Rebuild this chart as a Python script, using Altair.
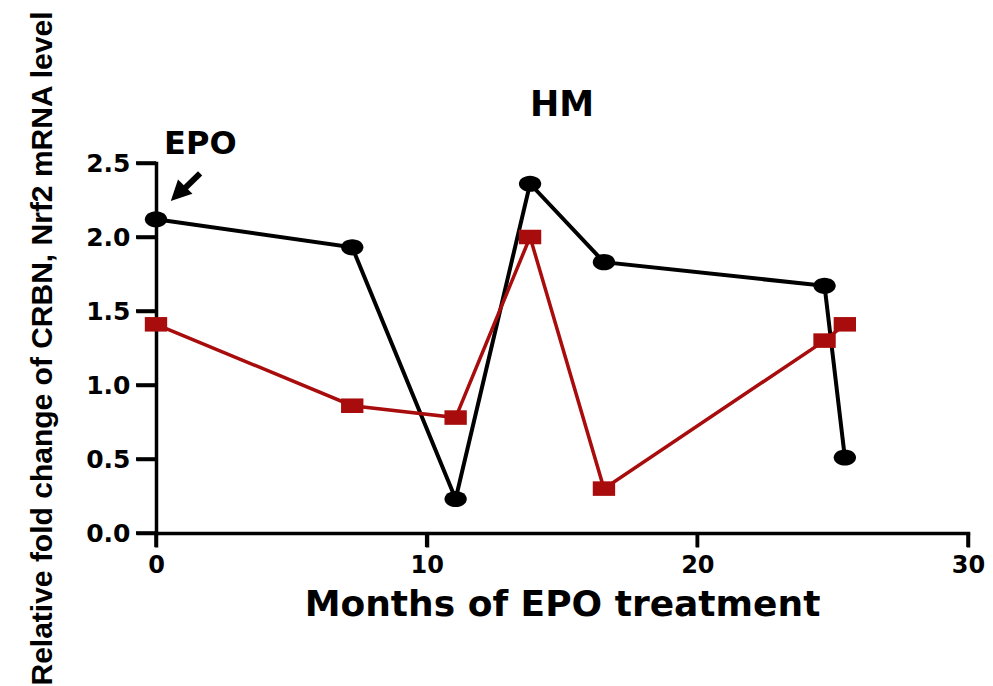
import altair as alt
import pandas as pd

# Months of EPO treatment at each sampling time
months = [0, 7.25, 11.07, 13.82, 16.55, 24.7, 25.45]
# Relative fold change per gene
crbn = [2.12, 1.93, 0.23, 2.36, 1.83, 1.67, 0.51]
nrf2 = [1.41, 0.86, 0.78, 2.00, 0.30, 1.30, 1.41]
# Axis tick values
x_ticks = [0, 10, 20, 30]
y_ticks = [0, 0.5, 1.0, 1.5, 2.0, 2.5]

BLACK = "#000000"
RED = "#A80C0C"
TXT = "DejaVu Sans"
PLOT_W, PLOT_H = 812, 370
X_TICK_LEN, Y_TICK_LEN = 14, 20

ELLIPSE = "M -1 0 A 1 0.72 0 1 1 1 0 A 1 0.72 0 1 1 -1 0 Z"
RECT = "M -1 -0.65 L 1 -0.65 L 1 0.65 L -1 0.65 Z"
ARROW_HEAD = "M 0 -1 L 0.85 0.7 L -0.85 0.7 Z"

df_crbn = pd.DataFrame({"month": months, "value": crbn})
df_nrf2 = pd.DataFrame({"month": months, "value": nrf2})

x_scale = alt.Scale(domain=[0, 30], nice=False, zero=False)
y_scale = alt.Scale(domain=[0, 2.5], nice=False)

x_axis = alt.Axis(
    title="Months of EPO treatment", values=x_ticks,
    tickSize=X_TICK_LEN, labelPadding=6, titleFontSize=36, titlePadding=10,
)
y_axis = alt.Axis(
    title="Relative fold change of CRBN, Nrf2 mRNA level",
    values=y_ticks, format=".1f",
    tickSize=Y_TICK_LEN, labelPadding=6, labelFontSize=25,
    titleFont="Liberation Sans", titleFontSize=30, titlePadding=28,
)

x = alt.X("month:Q", scale=x_scale, axis=x_axis)
y = alt.Y("value:Q", scale=y_scale, axis=y_axis)

crbn_line = alt.Chart(df_crbn).mark_line(color=BLACK, strokeWidth=4).encode(x=x, y=y)
crbn_pts = alt.Chart(df_crbn).mark_point(
    shape=ELLIPSE, size=500, filled=True, color=BLACK, opacity=1
).encode(x=x, y=y)

nrf2_line = alt.Chart(df_nrf2).mark_line(color=RED, strokeWidth=3.5).encode(x=x, y=y)
nrf2_pts = alt.Chart(df_nrf2).mark_point(
    shape=RECT, size=500, filled=True, color=RED, opacity=1
).encode(x=x, y=y)

# Heavy outward tick marks on both axes
x_tick_marks = alt.Chart(pd.DataFrame({"month": x_ticks})).mark_rule(
    color=BLACK, strokeWidth=3.5
).encode(x=x, y=alt.value(PLOT_H), y2=alt.value(PLOT_H + X_TICK_LEN))
y_tick_marks = alt.Chart(pd.DataFrame({"value": y_ticks})).mark_rule(
    color=BLACK, strokeWidth=3.5
).encode(y=y, x=alt.value(-Y_TICK_LEN), x2=alt.value(0))

# Panel heading, centred over the plot
head_txt = pd.DataFrame({"month": [15], "value": [2.82], "text": ["HM"]})
panel_title = alt.Chart(head_txt).mark_text(
    align="center", baseline="alphabetic", font=TXT, fontSize=35,
    fontWeight="bold", color=BLACK
).encode(x=x, y=y, text="text:N")

# "EPO" start annotation with an arrow pointing at the first sample
label_df = pd.DataFrame({"month": [0.3], "value": [2.56], "text": ["EPO"]})
epo_label = alt.Chart(label_df).mark_text(
    align="left", baseline="alphabetic", font=TXT, fontSize=32,
    fontWeight="bold", color=BLACK
).encode(x=x, y=y, text="text:N")

shaft_df = pd.DataFrame({"month": [1.63], "value": [2.43], "m2": [0.9], "v2": [2.30]})
shaft = alt.Chart(shaft_df).mark_rule(color=BLACK, strokeWidth=6).encode(
    x=x, y=y, x2="m2:Q", y2="v2:Q"
)
head_df = pd.DataFrame({"month": [0.86], "value": [2.30]})
head = alt.Chart(head_df).mark_point(
    shape=ARROW_HEAD, size=576, angle=225, filled=True, color=BLACK, opacity=1
).encode(x=x, y=y)

chart = alt.layer(
    x_tick_marks, y_tick_marks,
    crbn_line, nrf2_line, crbn_pts, nrf2_pts, shaft, head, epo_label, panel_title
).properties(
    width=PLOT_W, height=PLOT_H,
    background="white",
    autosize=alt.AutoSizeParams(type="none"),
    padding={"left": 156, "top": 163, "right": 25, "bottom": 153},
).configure_view(
    stroke=None, strokeWidth=0
).configure_axis(
    grid=False, ticks=True, domain=True, labelFlush=False,
    domainColor=BLACK, domainWidth=3.5, domainCap="square",
    tickColor=BLACK, tickWidth=3.5, tickOpacity=1,
    labelFont=TXT, labelFontSize=24, labelFontWeight="bold", labelColor=BLACK,
    titleFont=TXT, titleFontWeight="bold", titleColor=BLACK,
)

chart.save("out.html", embed_options={"renderer": "svg", "actions": False})
